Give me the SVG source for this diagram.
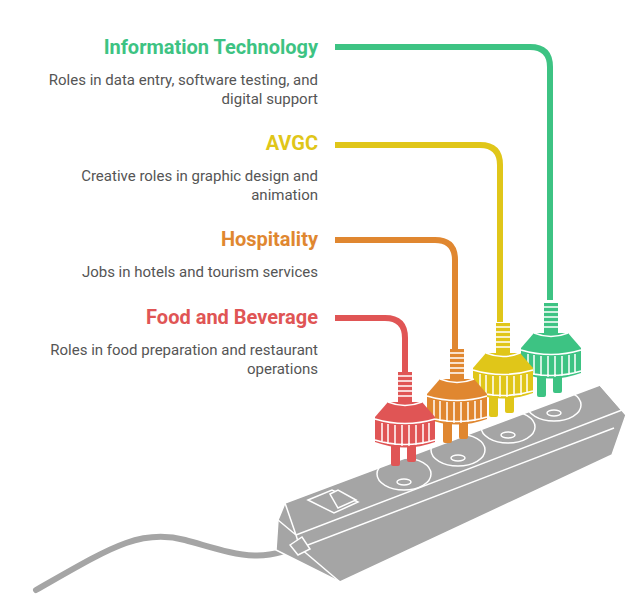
<svg xmlns="http://www.w3.org/2000/svg" width="641" height="614" viewBox="0 0 641 614">
<style>
.t{font-family:Roboto,"Liberation Sans",sans-serif;font-weight:bold;font-size:20px;text-anchor:end}
.d{font-family:Roboto,"Liberation Sans",sans-serif;font-size:15px;fill:#555;text-anchor:end}
.w{fill:none;stroke:#fff;stroke-width:1.5}
.c{fill:none;stroke-width:6;stroke-linecap:butt}
</style>
<defs>
<g id="plug">
<rect x="-7" y="-30" width="14" height="32"/>
<path class="w" d="M-7,-26h14M-7,-21h14M-7,-16h14M-7,-11h14M-7,-6h14"/>
<rect x="-14" y="40" width="9" height="24" rx="2"/>
<rect x="2" y="40" width="9" height="20" rx="2"/>
<path d="M-17,0 H17 L30,15 V40 Q0,51 -30,40 V15 Z"/>
<path class="w" d="M-30,17 Q0,26 30,17 M-30,38 Q0,47 30,38 M-23,21v19M-17,22v20M-10,23v20M-3,23v21M4,23v21M11,23v20M18,22v20M24,21v19 M-17,0 Q0,7 17,0"/>
</g>
</defs>
<g id="cord"><path d="M36,590 C110,548 140,528 185,540 S265,568 305,540" fill="none" stroke="#a5a5a5" stroke-width="6" stroke-linecap="round"/></g>
<g id="strip">
<path d="M285,503 L600,385 L626,415 L612,455 L340,582 L276,550 L278,520 Z" fill="#a5a5a5" stroke="#fff" stroke-width="1.5"/>
<path d="M285,503 L296,535 L622,410 M296,535 L300,548 L614,428 M300,548 L340,582 M296,535 L278,520 M600,385 L622,410" fill="none" stroke="#fff" stroke-width="1.5"/>
<path d="M308,500 L332,490 L358,502 L334,513 Z" fill="#a5a5a5" stroke="#fff" stroke-width="1.5"/>
<path d="M330,494 L338,490 L356,500 L338,508 Z" fill="#a5a5a5" stroke="#fff" stroke-width="1.5"/>
<path d="M290,545 l12,-8 l8,12 l-12,6 Z" fill="#a5a5a5" stroke="#fff" stroke-width="1.5"/>
<g fill="none" stroke="#fff" stroke-width="1.5">
<ellipse cx="404" cy="474" rx="27" ry="16"/><ellipse cx="404" cy="482" rx="7" ry="3"/>
<ellipse cx="458" cy="450" rx="27" ry="16"/><ellipse cx="458" cy="458" rx="7" ry="3"/>
<ellipse cx="508" cy="427" rx="27" ry="16"/><ellipse cx="508" cy="435" rx="7" ry="3"/>
<ellipse cx="554" cy="405" rx="27" ry="16"/><ellipse cx="554" cy="413" rx="7" ry="3"/>
</g>
</g>
<g id="connectors" class="c">
<path class="c" stroke="#3dc383" d="M335,47 H530 Q550,47 550,67 V300"/>
<path class="c" stroke="#e0c619" d="M335,145 H480 Q500,145 500,165 V322"/>
<path class="c" stroke="#e08730" d="M335,240 H435 Q455,240 455,260 V350"/>
<path class="c" stroke="#e05555" d="M335,318 H385 Q405,318 405,338 V372"/>
</g>
<g id="plug-it" fill="#3dc383"><use href="#plug" x="551" y="333"/></g>
<g id="plug-avgc" fill="#e0c619"><use href="#plug" x="503" y="353"/></g>
<g id="plug-hosp" fill="#e08730"><use href="#plug" x="457" y="379"/></g>
<g id="plug-food" fill="#e05555"><use href="#plug" x="405" y="402"/></g>
<g id="n-it"><text class="t" x="318" y="54" fill="#3dc383">Information Technology</text>
<text class="d" x="318" y="85">Roles in data entry, software testing, and</text><text class="d" x="318" y="104">digital support</text></g>
<g id="n-avgc"><text class="t" x="318" y="150" fill="#e0c619">AVGC</text>
<text class="d" x="318" y="181">Creative roles in graphic design and</text><text class="d" x="318" y="200">animation</text></g>
<g id="n-hosp"><text class="t" x="318" y="246" fill="#e08730">Hospitality</text>
<text class="d" x="318" y="277">Jobs in hotels and tourism services</text></g>
<g id="n-food"><text class="t" x="318" y="324" fill="#e05555">Food and Beverage</text>
<text class="d" x="318" y="355">Roles in food preparation and restaurant</text><text class="d" x="318" y="374">operations</text></g>
</svg>
